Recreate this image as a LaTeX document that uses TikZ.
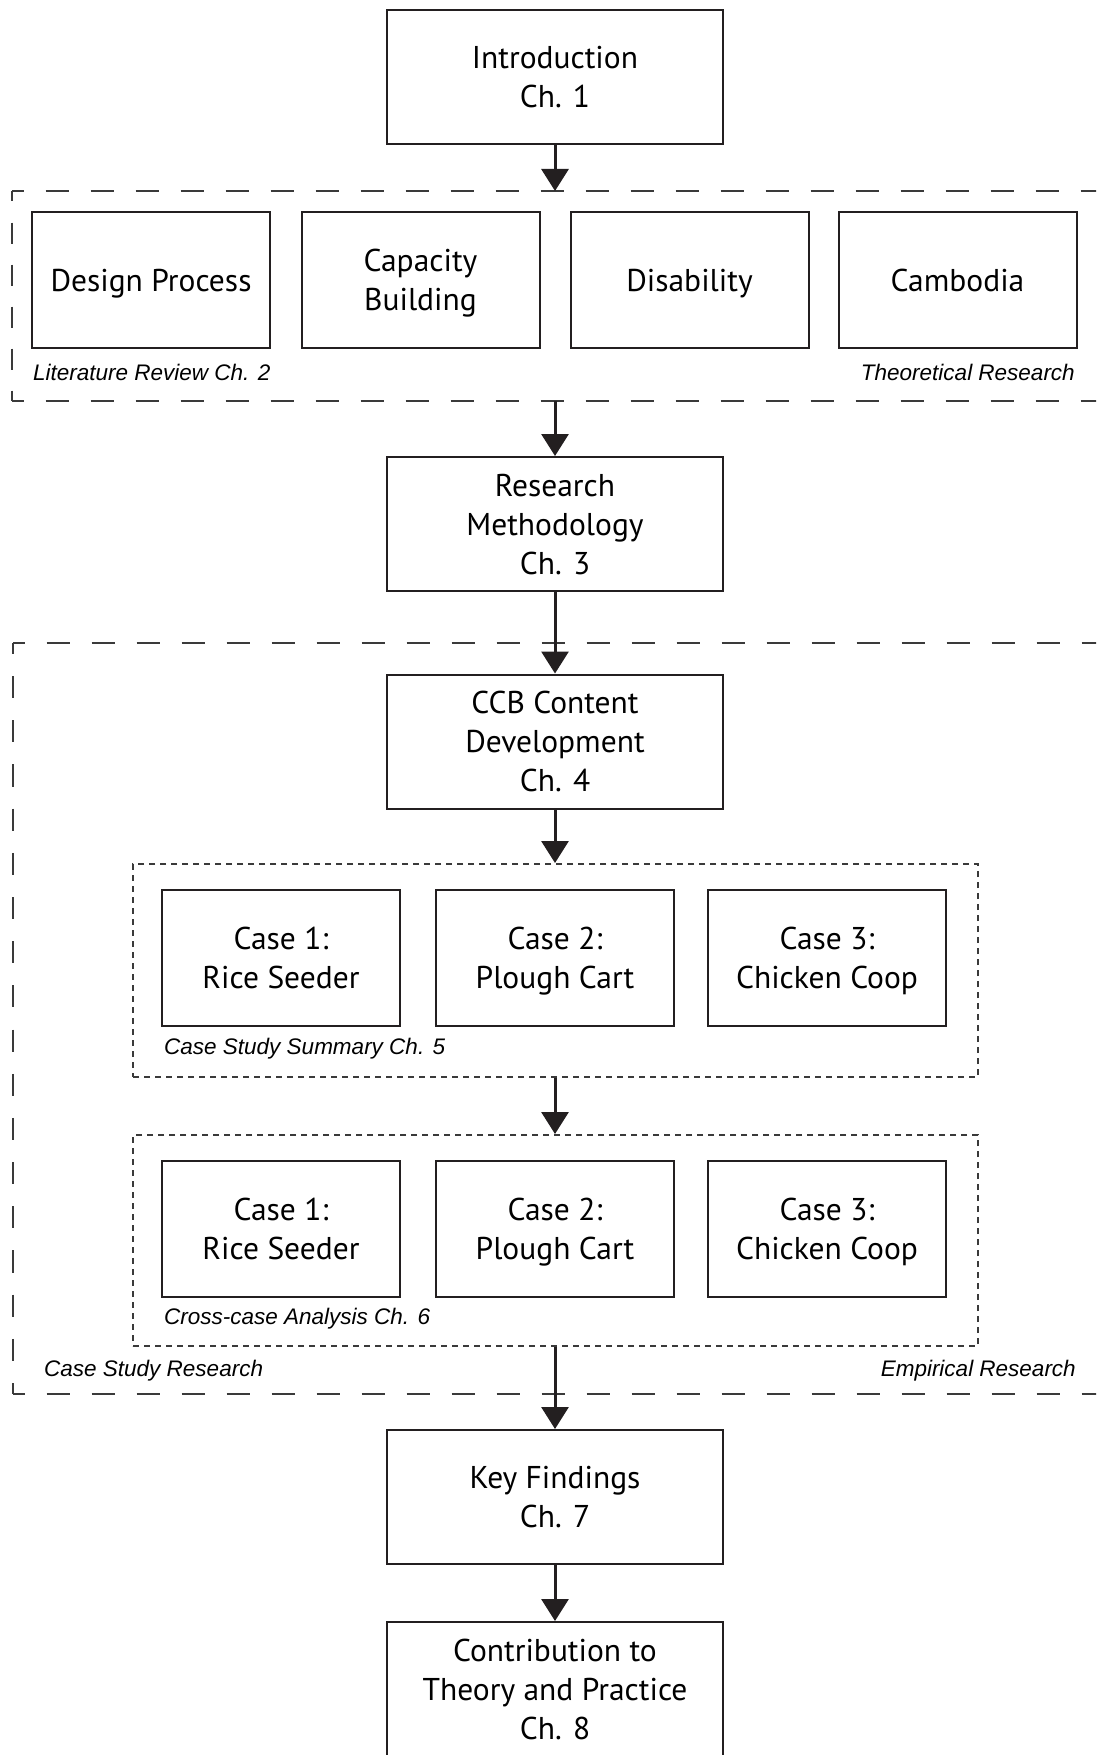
\documentclass[tikz,border=0pt]{standalone}
\usepackage{fontspec}
\setmainfont{PT Sans}
\newfontfamily\labelfont{Liberation Sans}
\usetikzlibrary{arrows.meta}
\definecolor{ink}{HTML}{231F20}
\definecolor{frameink}{HTML}{3A3A3A}
% strut centred on the cap height, so every line sits evenly in its box
\newcommand\capstrut{\rule[-9pt]{0pt}{40pt}}

\begin{document}
\begin{tikzpicture}[x=1pt,y=-1pt,
  boxbase/.style={draw=ink, line width=2pt, inner sep=0pt, align=center, text=black,
    font=\fontsize{31.5}{39}\selectfont},
  multi/.style={execute at end node=\capstrut},
  single/.style={execute at begin node=\capstrut, execute at end node=\capstrut},
  box/.style={boxbase, multi, minimum width=336pt, minimum height=134pt},
  topic/.style={boxbase, multi, minimum width=238pt, minimum height=136pt},
  topicone/.style={boxbase, single, minimum width=238pt, minimum height=136pt},
  flow/.style={draw=ink, line width=3pt, -{Triangle[width=27pt,length=22pt]}},
  tag/.style={inner sep=0pt, text=black,
    font=\labelfont\itshape\fontsize{22.5}{27}\selectfont},
  groupbox/.style={draw=frameink, line width=2pt, dash pattern=on 6pt off 5pt,
    inner sep=0pt},
  frameline/.style={draw=frameink, line width=2pt},
  longdash/.style={frameline, dash pattern=on 23pt off 22pt, dash phase=11.5pt}
]
% page
\fill[white] (0,0) rectangle (1096,1755);
\clip (0,0) rectangle (1096,1755);

% ---- chapter boxes on the main axis
\node[box] (intro) at (555,77) {\capstrut Introduction\\Ch. 1};
\node[box] (rm)    at (555,524) {\capstrut Research\\Methodology\\Ch. 3};
\node[box] (ccb)   at (555,741.5) {\capstrut CCB Content\\Development\\Ch. 4};
\node[box] (kf)    at (555,1497) {\capstrut Key Findings\\Ch. 7};
\node[box] (contr) at (555,1689) {\capstrut Contribution to\\Theory and Practice\\Ch. 8};

% ---- literature review topics
\node[topicone] (design) at (151,280)   {Design Process};
\node[topic]    (capac)  at (420.5,280) {\capstrut Capacity\\Building};
\node[topicone] (disab)  at (689.5,280) {Disability};
\node[topicone] (camb)   at (957.5,280) {Cambodia};

% ---- theoretical research frame (open to the right)
\coordinate (tTL) at (12,191);
\coordinate (tBL) at (12,401);
\coordinate (tTR) at (1130,191);
\coordinate (tBR) at (1130,401);
\coordinate (tIn)  at (555,191);
\coordinate (tOut) at (555,401);
\draw[longdash] (tTL) -- (tTR);
\draw[longdash] (tBL) -- (tBR);
\draw[frameline, dash pattern=on 21pt off 21pt, dash phase=10.5pt] (tTL) -- (tBL);

\node[tag, anchor=base west] (litlab)  at (33,380.5)   {Literature Review Ch. 2};
\node[tag, anchor=base east] (theolab) at (1075,380.5) {Theoretical Research};

% ---- empirical research frame (open to the right)
\coordinate (eTL) at (13,643);
\coordinate (eBL) at (13,1394);
\coordinate (eTR) at (1130,643);
\coordinate (eBR) at (1130,1394);
\draw[longdash] (eTL) -- (eTR);
\draw[longdash] (eBL) -- (eBR);
\draw[frameline, dash pattern=on 22.09pt off 22.09pt, dash phase=11.05pt] (eTL) -- (eBL);

% ---- case study groups
\node[groupbox, minimum width=845pt, minimum height=213pt] (summ)  at (555.5,970.5) {};
\node[groupbox, minimum width=845pt, minimum height=211pt] (cross) at (555.5,1240.5) {};

\node[topic] (s1) at (281,958) {\capstrut Case 1:\\Rice Seeder};
\node[topic] (s2) at (555,958) {\capstrut Case 2:\\Plough Cart};
\node[topic] (s3) at (827,958) {\capstrut Case 3:\\Chicken Coop};

\node[topic] (c1) at (281,1228.5) {\capstrut Case 1:\\Rice Seeder};
\node[topic] (c2) at (555,1228.5) {\capstrut Case 2:\\Plough Cart};
\node[topic] (c3) at (827,1228.5) {\capstrut Case 3:\\Chicken Coop};

\node[tag, anchor=base west] (sumlab)   at (164,1054)  {Case Study Summary Ch. 5};
\node[tag, anchor=base west] (crosslab) at (164,1324)  {Cross-case Analysis Ch. 6};
\node[tag, anchor=base west] (cslab)    at (44,1376)   {Case Study Research};
\node[tag, anchor=base east] (emplab)   at (1076,1376) {Empirical Research};

% ---- flow arrows
\draw[flow] (intro.south) -- (tIn);
\draw[flow] (tOut) -- (rm.north);
\draw[flow] (rm.south) -- (ccb.north);
\draw[flow] (ccb.south) -- (summ.north -| ccb.south);
\draw[flow] (summ.south -| ccb.south) -- (cross.north -| ccb.south);
\draw[flow] (cross.south -| ccb.south) -- (kf.north);
\draw[flow] (kf.south) -- (contr.north);
\end{tikzpicture}
\end{document}
